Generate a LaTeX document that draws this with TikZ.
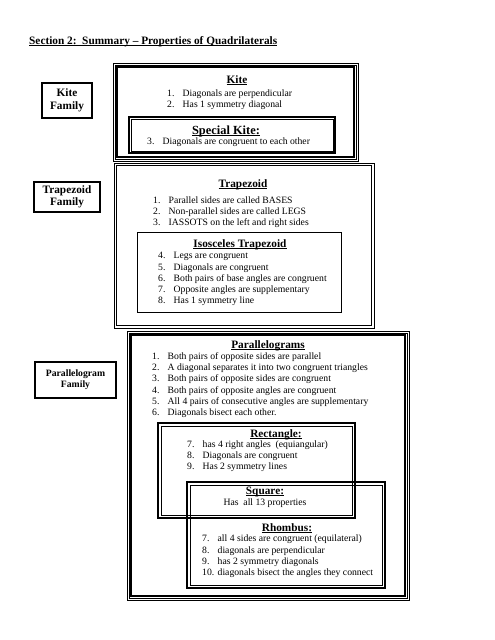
\documentclass[tikz,border=0pt]{standalone}
\usepackage{fontspec}
\setmainfont{Liberation Serif}
\usepackage{tikz}
\usetikzlibrary{positioning}

\newcommand{\num}[1]{\makebox[15.5pt][l]{#1}}
% underline at a fixed depth, through the descenders
\newcommand{\uln}[1]{\setbox0\hbox{#1}\rlap{\rule[-1.7pt]{\wd0}{0.8pt}}\box0}

\tikzset{
    head/.style={inner sep=0pt, anchor=base, font=\bfseries\fontsize{11.3}{13}\selectfont},
    items/.style={inner sep=0pt, anchor=north west, align=left, font=\fontsize{9.7}{11.2}\selectfont},
    family/.style={draw, rectangle, line width=1.2pt, inner sep=0pt, align=center},
    thinline/.style={line width=0.6pt},
    thickline/.style={line width=1.7pt},
}

\begin{document}
\begin{tikzpicture}[x=1pt, y=-1pt]
    \useasboundingbox[fill=white] (0,0) rectangle (495,640);

    % Title
    \node[inner sep=0pt, anchor=base west, font=\bfseries\fontsize{11.3}{13}\selectfont] (title) at (29,44)
        {\uln{Section 2:\ \ Summary -- Properties of Quadrilaterals}};

    % Family labels
    \node[family, minimum width=50pt, minimum height=35pt, font=\bfseries\fontsize{11.3}{12.5}\selectfont] (kiteFam) at (67,100.5) {Kite\\Family};
    \node[family, minimum width=66pt, minimum height=30pt, font=\bfseries\fontsize{11.3}{12.5}\selectfont] (trapFam) at (67,197) {Trapezoid\\Family};
    \node[family, minimum width=81pt, minimum height=36pt, font=\bfseries\fontsize{9.7}{11}\selectfont] (paraFam) at (75.5,380) {Parallelogram\\Family};

    % Kite frame
    \draw[thinline] (113,63) rectangle (358,161);
    \draw[thinline] (115,65) rectangle (356,159);
    \draw[thickline] (117,67) rectangle (354,157);
    \node[head] (kiteHead) at (237,83) {\uln{Kite}};
    \node[items] (kiteList) at (167,89.4) {\num{1.}Diagonals are perpendicular\\\num{2.}Has 1 symmetry diagonal};

    % Special kite
    \draw[thickline] (129,117) rectangle (335,153);
    \draw[thinline] (131,119) rectangle (333,151);
    \node[head, font=\bfseries\fontsize{12.4}{14}\selectfont] (spKiteHead) at (226,134) {\uln{Special Kite:}};
    \node[items] (spKiteList) at (147,137.4) {\num{3.}Diagonals are congruent to each other};

    % Trapezoid frame
    \draw[thinline] (114,163) rectangle (374,328);
    \draw[thickline] (116.5,165.5) rectangle (371.5,325.5);
    \node[head] (trapHead) at (243,187) {\uln{Trapezoid}};
    \node[items] (trapList) at (153,196.4) {\num{1.}Parallel sides are called BASES\\\num{2.}Non-parallel sides are called LEGS\\\num{3.}IASSOTS on the left and right sides};

    % Isosceles trapezoid
    \draw[line width=0.8pt] (137,232) rectangle (341,312);
    \node[head] (isoHead) at (240,247) {\uln{Isosceles Trapezoid}};
    \node[items] (isoList) at (158,252.4) {\num{4.}Legs are congruent\\\num{5.}Diagonals are congruent\\\num{6.}Both pairs of base angles are congruent\\\num{7.}Opposite angles are supplementary\\\num{8.}Has 1 symmetry line};

    % Parallelogram frame
    \draw[thinline] (127,331) rectangle (409,600);
    \draw[thinline] (129,333) rectangle (407,598);
    \draw[thickline] (131,335) rectangle (405,596);
    \node[head] (paraHead) at (268,348) {\uln{Parallelograms}};
    \node[items] (paraList) at (152,352.4) {\num{1.}Both pairs of opposite sides are parallel\\\num{2.}A diagonal separates it into two congruent triangles\\\num{3.}Both pairs of opposite sides are congruent\\\num{4.}Both pairs of opposite angles are congruent\\\num{5.}All 4 pairs of consecutive angles are supplementary\\\num{6.}Diagonals bisect each other.};

    % Rectangle
    \draw[line width=2.6pt] (158,423) rectangle (355,518);
    \draw[thinline] (161,426) rectangle (352,515);
    \node[head] (rectHead) at (276,437) {\uln{Rectangle:}};
    \node[items] (rectList) at (187,440.4) {\num{7.}has 4 right angles\ \ (equiangular)\\\num{8.}Diagonals are congruent\\\num{9.}Has 2 symmetry lines};

    % Square / Rhombus
    \draw[line width=2.4pt] (187,482) rectangle (385,588);
    \draw[thinline] (190,485) rectangle (382,585);
    \node[head] (sqHead) at (265,494) {\uln{Square:}};
    \node[inner sep=0pt, anchor=base, font=\fontsize{9.7}{11.2}\selectfont] (sqText) at (265,505) {Has\ \ all 13 properties};
    \node[head] (rhHead) at (287,531) {\uln{Rhombus:}};
    \node[items] (rhList) at (202,535) {\num{7.}all 4 sides are congruent (equilateral)\\\num{8.}diagonals are perpendicular\\\num{9.}has 2 symmetry diagonals\\\num{10.}diagonals bisect the angles they connect};

\end{tikzpicture}
\end{document}
